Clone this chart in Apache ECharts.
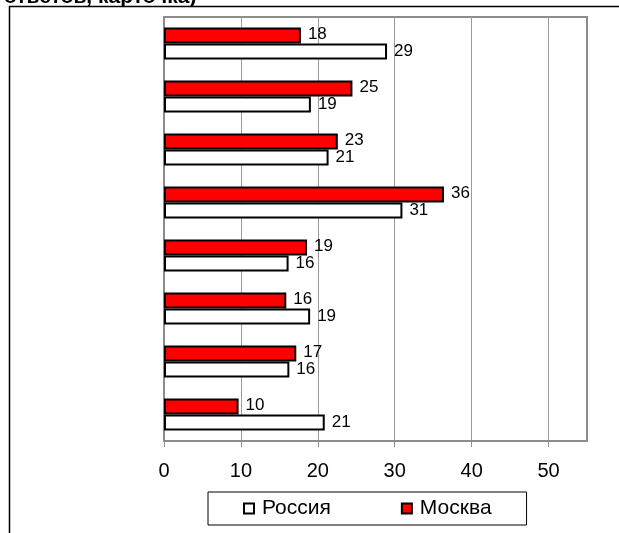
<!DOCTYPE html>
<html>
<head>
<meta charset="utf-8">
<script src="https://cdn.jsdelivr.net/npm/echarts@6/dist/echarts.min.js"></script>
<style>
html,body{margin:0;padding:0;background:#fff;}
#c{width:619px;height:533px;}
</style>
</head>
<body>
<div id="c"></div>
<script>
const categories = ['1', '2', '3', '4', '5', '6', '7', '8'];
const moscow = [17.8, 24.5, 22.6, 36.4, 18.6, 15.9, 17.2, 9.7];
const russia = [29.0, 19.1, 21.4, 31.0, 16.2, 19.0, 16.3, 20.9];
const ticks = [0, 10, 20, 30, 40, 50];
const titleText = 'ответов, карточка)';

const FONT = 'Liberation Sans, Arial, sans-serif';
const chart = echarts.init(document.getElementById('c'));
const labelCfg = {
  show: true,
  position: 'right',
  distance: 7,
  color: '#000',
  fontFamily: FONT,
  fontSize: 17,
  formatter: p => Math.round(p.value)
};
chart.setOption({
  animation: false,
  backgroundColor: '#fff',
  graphic: [
    {type: 'rect', shape: {x: 9.5, y: 6.5, width: 800, height: 800},
     style: {fill: 'none', stroke: '#000', lineWidth: 1.5}, silent: true},
    {type: 'text', x: 4, y: 8,
     style: {text: titleText, fontFamily: FONT, fontSize: 21, fontWeight: 'bold',
             fill: '#000', verticalAlign: 'bottom', align: 'left'}}
  ],
  grid: {left: 164, top: 17, right: 32, bottom: 92, show: true,
         borderColor: '#8c8c8c', borderWidth: 2, backgroundColor: 'transparent'},
  legend: {
    data: ['Россия', 'Москва'],
    icon: 'rect',
    left: 208, top: 492,
    padding: [6, 35, 6, 35],
    itemGap: 70,
    itemWidth: 10, itemHeight: 10,
    borderColor: '#000', borderWidth: 1,
    itemStyle: {borderColor: '#000', borderWidth: 2},
    textStyle: {fontFamily: FONT, fontSize: 21, color: '#000', padding: [0, 0, 0, 3]}
  },
  xAxis: {
    type: 'value', min: 0, max: 55, interval: 10,
    axisLine: {show: true, lineStyle: {color: '#8c8c8c', width: 2}},
    axisTick: {show: true, inside: false, length: 6, customValues: ticks,
               lineStyle: {color: '#8c8c8c', width: 1}},
    axisLabel: {customValues: ticks, fontFamily: FONT, fontSize: 20, color: '#000', margin: 20},
    splitLine: {show: true, lineStyle: {color: '#9a9a9a', width: 1}}
  },
  yAxis: {
    type: 'category', data: categories, inverse: true,
    axisLine: {show: true, lineStyle: {color: '#8c8c8c', width: 2}},
    axisTick: {show: false},
    axisLabel: {show: false}
  },
  series: [
    {name: 'Москва', type: 'bar', data: moscow, barWidth: 16, barGap: '0%',
     itemStyle: {color: '#ff0000', borderColor: '#000', borderWidth: 2},
     label: Object.assign({}, labelCfg, {offset: [0, -1]})},
    {name: 'Россия', type: 'bar', data: russia, barWidth: 16, barGap: '0%',
     itemStyle: {color: '#ffffff', borderColor: '#000', borderWidth: 2},
     label: labelCfg}
  ]
});
</script>
</body>
</html>
